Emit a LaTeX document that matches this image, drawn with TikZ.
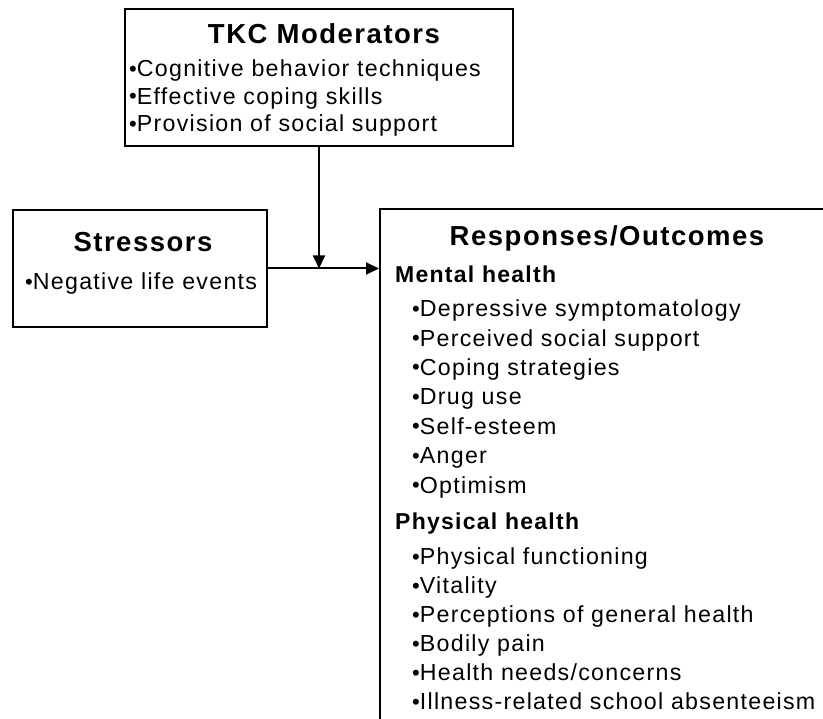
\documentclass[tikz,border=0pt]{standalone}
\usepackage{fontspec}
\setmainfont{Liberation Sans}[LetterSpace=5.5]
\usepackage{graphicx}
\usetikzlibrary{arrows.meta,positioning}
\newcommand{\blt}{\raisebox{0.5pt}{\scalebox{0.95}{\textbullet}}}

\begin{document}
\begin{tikzpicture}[x=1pt,y=-1pt,font=\fontsize{23.2}{28}\selectfont]
\tikzset{box/.style={draw,line width=2pt,inner sep=0pt},
  ttl/.style={font=\fontsize{27.5}{32}\selectfont\bfseries,anchor=base,inner sep=0pt},
  sub/.style={font=\fontsize{23}{28}\selectfont\bfseries,anchor=base west,inner sep=0pt},
  itm/.style={anchor=base west,inner sep=0pt},
  arr/.style={line width=2pt,-{Triangle[length=13pt,width=12pt]}}}
\useasboundingbox (0,0) rectangle (823,719);
\clip (0,0) rectangle (823,719);
% boxes
\node[box,minimum width=388pt,minimum height=137pt] (tkc) at (319,77.5){};
\node[box,minimum width=254pt,minimum height=117pt] (str) at (140,268.5){};
\node[box,minimum width=460pt,minimum height=531pt] (resp) at (610,474.5){};
% moderators
\node[ttl] (tkct) at (324,43.3){TKC Moderators};
\foreach \t [count=\i from 0] in {Cognitive behavior techniques,Effective coping skills,Provision of social support}
  \node[itm] (tkc\i) at (129,76.7+\i*27.5){\blt\t};
% stressors
\node[ttl] (strt) at (143,251.7){Stressors};
\node[itm] (str0) at (25,290){\blt Negative life events};
% responses
\node[ttl] (respt) at (607,245.7){Responses/Outcomes};
\node[sub] (ment) at (395,283){Mental health};
\foreach \t [count=\i from 0] in {Depressive symptomatology,Perceived social support,Coping strategies,Drug use,Self-esteem,Anger,Optimism}
  \node[itm] (m\i) at (412,316.7+\i*29.4){\blt\t};
\node[sub] (phys) at (395,529.3){Physical health};
\foreach \t [count=\i from 0] in {Physical functioning,Vitality,Perceptions of general health,Bodily pain,Health needs/concerns,Illness-related school absenteeism}
  \node[itm] (p\i) at (412,565+\i*28.9){\blt\t};
% arrows
\draw[arr] (str.east) -- (str.east -| resp.west);
\draw[arr] (tkc.south) -- (tkc.south |- str.east);
\end{tikzpicture}
\end{document}
